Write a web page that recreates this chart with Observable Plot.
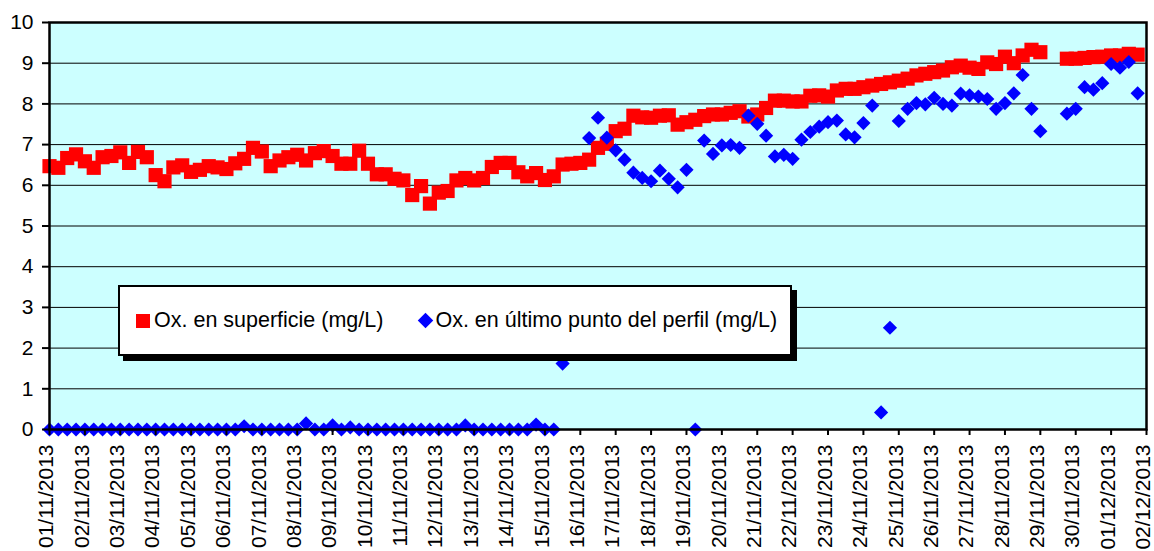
<!DOCTYPE html>
<html>
<head>
<meta charset="utf-8">
<script src="https://cdn.jsdelivr.net/npm/d3@7"></script>
<script src="https://cdn.jsdelivr.net/npm/@observablehq/plot@0.6"></script>
<style>
  html, body { margin: 0; padding: 0; background: #fff; overflow: hidden; }
  #chart { position: relative; width: 1154px; height: 551px; font-family: Arial, "Liberation Sans", sans-serif; }
  #legend {
    position: absolute; left: 118px; top: 285px; width: 674px; height: 71px;
    box-sizing: border-box; background: #fff; border: 2px solid #000;
    box-shadow: 5px 5px 0 #000; display: flex; align-items: center;
    font-size: 21.5px; color: #000; white-space: nowrap;
  }
  .sw { display: inline-block; flex: none; }
  .sq { width: 14px; height: 14px; background: #ff0000; margin-left: 16px; margin-right: 4px; }
  .di { width: 11px; height: 11px; background: #0000ff; transform: rotate(45deg); margin-left: 37px; margin-right: 4px; }
</style>
</head>
<body>
<div id="chart"><div id="legend"></div></div>
<script>
// Day tick labels (x axis)
const dayLabels = ["01/11/2013","02/11/2013","03/11/2013","04/11/2013","05/11/2013","06/11/2013","07/11/2013","08/11/2013","09/11/2013","10/11/2013","11/11/2013","12/11/2013","13/11/2013","14/11/2013","15/11/2013","16/11/2013","17/11/2013","18/11/2013","19/11/2013","20/11/2013","21/11/2013","22/11/2013","23/11/2013","24/11/2013","25/11/2013","26/11/2013","27/11/2013","28/11/2013","29/11/2013","30/11/2013","01/12/2013","02/12/2013"];
// Measurement hours within each day (4 readings per day)
const readingHours = [0, 6, 12, 18];
const yTicks = [0,1,2,3,4,5,6,7,8,9,10];

const seriesNames = ["Ox. en superficie (mg/L)", "Ox. en último punto del perfil (mg/L)"];

// Ox. en superficie (mg/L), one value per reading (null = no data)
const surface = [
  6.47,6.43,6.67,6.76, 6.59,6.43,6.69,6.72, 6.81,6.55,6.82,6.69, 6.25,6.10,6.44,6.49,
  6.33,6.38,6.47,6.44, 6.40,6.54,6.65,6.92, 6.83,6.47,6.61,6.69, 6.75,6.61,6.79,6.84,
  6.72,6.53,6.53,6.85, 6.53,6.27,6.27,6.16, 6.12,5.76,5.98,5.55, 5.82,5.86,6.12,6.18,
  6.12,6.18,6.45,6.55, 6.55,6.32,6.22,6.30, 6.13,6.22,6.51,6.53, 6.55,6.63,6.92,7.02,
  7.33,7.39,7.71,7.67, 7.66,7.71,7.72,7.49, 7.55,7.61,7.70,7.74, 7.74,7.78,7.82,7.69,
  7.74,7.90,8.08,8.08, 8.06,8.06,8.20,8.21, 8.18,8.33,8.37,8.37, 8.41,8.45,8.49,8.53,
  8.57,8.62,8.70,8.74, 8.78,8.82,8.90,8.94, 8.89,8.86,9.02,8.98, 9.16,9.00,9.19,9.33,
  9.27,null,null,9.11, 9.11,9.13,9.15,9.16, 9.19,9.19,9.23,9.21
];

// Ox. en último punto del perfil (mg/L), one value per reading (null = no data)
const profile = [
  0,0,0,0, 0,0,0,0, 0,0,0,0, 0,0,0,0,
  0,0,0,0, 0,0,0.08,0, 0,0,0,0, 0,0.15,0,0,
  0.10,0,0.05,0, 0,0,0,0, 0,0,0,0, 0,0,0,0.10,
  0,0,0,0, 0,0,0,0.12, 0,0,1.62,null, null,7.16,7.66,7.17,
  6.86,6.63,6.31,6.18, 6.10,6.36,6.16,5.95, 6.38,0,7.10,6.77, 6.98,6.99,6.92,7.71,
  7.51,7.22,6.71,6.75, 6.65,7.12,7.31,7.44, 7.55,7.59,7.25,7.18, 7.53,7.96,0.42,2.50,
  7.58,7.88,8.02,7.99, 8.15,8.00,7.96,8.25, 8.21,8.18,8.12,7.88, 8.02,8.26,8.71,7.88,
  7.33,null,null,7.76, 7.88,8.41,8.35,8.51, 8.98,8.89,9.03,8.26
];

const parseDay = d3.utcParse("%d/%m/%Y");
const fmtDay = d3.utcFormat("%d/%m/%Y");
const tickDates = dayLabels.map(parseDay);
const timeOf = i => d3.utcHour.offset(tickDates[Math.floor(i / 4)], readingHours[i % 4]);

const surfRows = surface.map((v, i) => ({time: timeOf(i), value: v}));
const profRows = profile.map((v, i) => ({time: timeOf(i), value: v}));

const chart = Plot.plot({
  width: 1154,
  height: 551,
  marginLeft: 49,
  marginRight: 8,
  marginTop: 22,
  marginBottom: 122,
  style: {fontFamily: 'Arial, "Liberation Sans", sans-serif', fontSize: "21px", background: "transparent", overflow: "visible"},
  x: {type: "utc", domain: [tickDates[0], tickDates[tickDates.length - 1]]},
  y: {domain: [0, 10]},
  marks: [
    Plot.frame({fill: "#ccffff", stroke: "none"}),
    Plot.ruleY(yTicks, {stroke: "#000", strokeWidth: 1}),
    Plot.dot(surfRows, {x: "time", y: "value", symbol: "square", r: 8, fill: "#ff0000", stroke: "none"}),
    Plot.dot(profRows, {x: "time", y: "value", symbol: "diamond2", r: 6.4, fill: "#0000ff", stroke: "none"}),
    Plot.frame({stroke: "#000", strokeWidth: 2.5}),
    Plot.axisY({ticks: yTicks, tickSize: 7, tickPadding: 9, fontSize: 21, label: null, strokeWidth: 2}),
    Plot.axisX({ticks: tickDates, tickFormat: () => "", tickSize: 6, label: null, strokeWidth: 2}),
    Plot.axisX({ticks: tickDates, tickFormat: fmtDay, tickRotate: -90, tickSize: 0, tickPadding: 15, dx: -3, fontSize: 21, label: null})
  ]
});
document.getElementById("chart").prepend(chart);

const legend = document.getElementById("legend");
legend.innerHTML = `<span class="sw sq"></span><span>${seriesNames[0]}</span><span class="sw di"></span><span>${seriesNames[1]}</span>`;
</script>
</body>
</html>
